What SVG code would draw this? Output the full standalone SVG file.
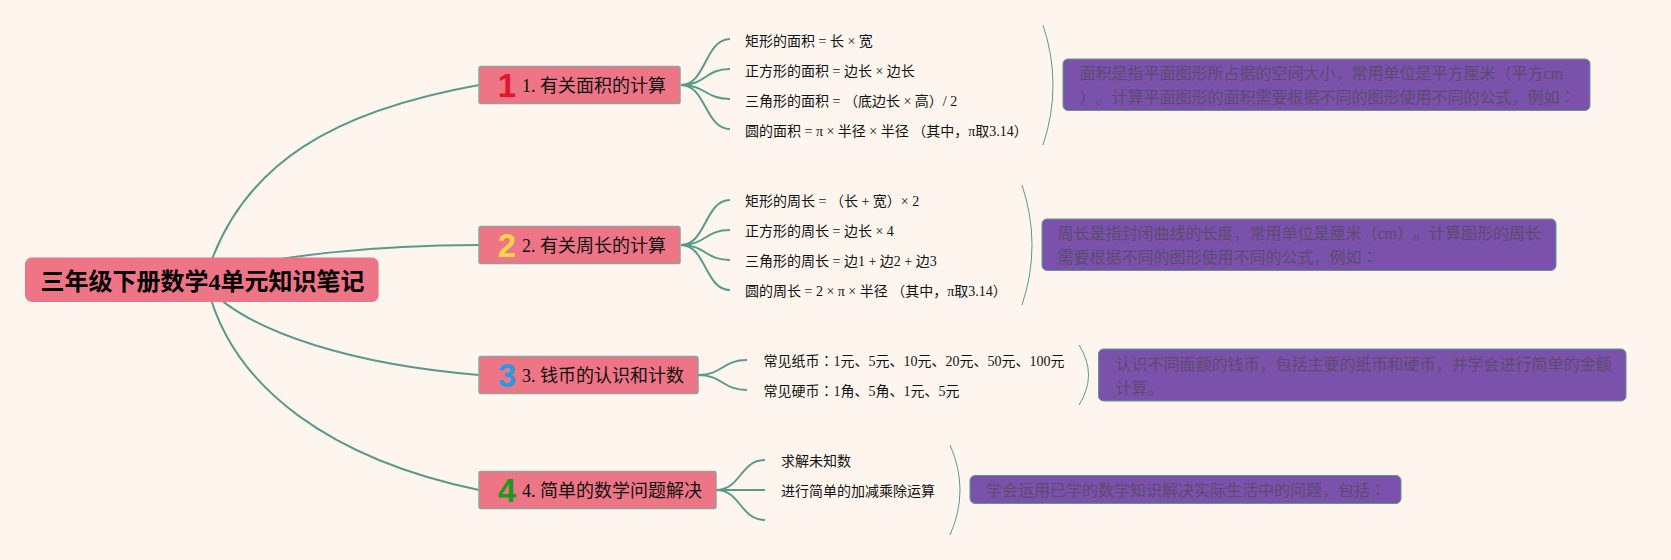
<svg xmlns="http://www.w3.org/2000/svg" width="1671" height="560" viewBox="0 0 1671 560">
<style>
text{font-family:"Liberation Serif","Noto Sans CJK SC",serif;text-spacing-trim:space-all}
.c{font-family:"Noto Sans CJK TC",sans-serif}
.root{fill:#ee7586}
.rt{font-size:24px;font-weight:700;fill:#000;text-anchor:middle}
.topic{fill:#ee7586;stroke:#98a09a;stroke-width:1.5}
.tt{font-size:18px;fill:#111}
.leaf{font-size:14px;fill:#111}
.note{fill:#7b52ab;stroke:#5b9a8b;stroke-width:1}
.nt{font-size:16px;fill:#5c4a70}
.icon{font-family:"Liberation Sans","DejaVu Sans",sans-serif;font-size:33px;font-weight:700;text-anchor:middle}
.main{fill:none;stroke:#5b9a8b;stroke-width:2}
.sub{fill:none;stroke:#5b9a8b;stroke-width:2}
.brace{fill:none;stroke:#5b9a8b;stroke-width:1}
</style>
<rect width="1671" height="560" fill="#fff5ef"/>
<g id="connectors">
<path class="main" d="M205 280C240 160 340 110 479 85"/>
<path class="main" d="M205 276C270 255 380 245 479 245"/>
<path class="main" d="M205 285C250 335 360 365 479 375"/>
<path class="main" d="M207 285C232 390 335 460 479 490"/>
<path class="sub" d="M681 85C706 85 705 39 730 39"/>
<path class="sub" d="M681 85C706 85 705 69 730 69"/>
<path class="sub" d="M681 85C706 85 705 99 730 99"/>
<path class="sub" d="M681 85C706 85 705 129 730 129"/>
<path class="sub" d="M681 245C706 245 705 200 730 200"/>
<path class="sub" d="M681 245C706 245 705 230 730 230"/>
<path class="sub" d="M681 245C706 245 705 260 730 260"/>
<path class="sub" d="M681 245C706 245 705 290 730 290"/>
<path class="sub" d="M698 375C723 375 722 360 747 360"/>
<path class="sub" d="M698 375C723 375 722 390 747 390"/>
<path class="sub" d="M716 490C741 490 740 460 765 460"/>
<path class="sub" d="M716 490H765"/>
<path class="sub" d="M716 490C741 490 740 520 765 520"/>
<path class="brace" d="M1043 25Q1063 85 1043 145"/>
<path class="brace" d="M1022 185Q1042 245 1022 305"/>
<path class="brace" d="M1079 345Q1098 375 1079 405"/>
<path class="brace" d="M950 445Q970 490 950 535"/>
</g>
<g id="root"><rect class="root" x="25" y="257.5" width="353.6" height="44.5" rx="7"/><text class="rt" x="202.5" y="290">三年级下册数学4单元知识笔记</text></g>
<g id="topic1"><rect class="topic" x="479" y="66.5" width="201" height="37" rx="2"/><text class="icon" x="507" y="96.5" fill="#e0162b">1</text><text class="tt" x="522" y="92">1. 有关面积的计算</text></g>
<g id="topic2"><rect class="topic" x="479" y="226.5" width="201" height="37" rx="2"/><text class="icon" x="507" y="256.5" fill="#f7d64a">2</text><text class="tt" x="522" y="252">2. 有关周长的计算</text></g>
<g id="topic3"><rect class="topic" x="479" y="356.5" width="219" height="37" rx="2"/><text class="icon" x="507" y="386.5" fill="#2a9ae0">3</text><text class="tt" x="522" y="382">3. 钱币的认识和计数</text></g>
<g id="topic4"><rect class="topic" x="479" y="471.5" width="237" height="37" rx="2"/><text class="icon" x="507" y="501.5" fill="#1d9a1d">4</text><text class="tt" x="522" y="497">4. 简单的数学问题解决</text></g>
<g id="leaf1-1"><text class="leaf" x="745" y="46">矩形的面积 = 长 × 宽</text></g>
<g id="leaf1-2"><text class="leaf" x="745" y="76">正方形的面积 = 边长 × 边长</text></g>
<g id="leaf1-3"><text class="leaf" x="745" y="106">三角形的面积 = （底边长 × 高）/ 2</text></g>
<g id="leaf1-4"><text class="leaf" x="745" y="136">圆的面积 = π × 半径 × 半径 （其中，π取3.14）</text></g>
<g id="leaf2-1"><text class="leaf" x="745" y="206">矩形的周长 = （长 + 宽）× 2</text></g>
<g id="leaf2-2"><text class="leaf" x="745" y="236">正方形的周长 = 边长 × 4</text></g>
<g id="leaf2-3"><text class="leaf" x="745" y="266">三角形的周长 = 边1 + 边2 + 边3</text></g>
<g id="leaf2-4"><text class="leaf" x="745" y="296">圆的周长 = 2 × π × 半径 （其中，π取3.14）</text></g>
<g id="leaf3-1"><text class="leaf" x="763.5" y="366">常见纸币<tspan class="c">：</tspan>1元、5元、10元、20元、50元、100元</text></g>
<g id="leaf3-2"><text class="leaf" x="763.5" y="396">常见硬币<tspan class="c">：</tspan>1角、5角、1元、5元</text></g>
<g id="leaf4-1"><text class="leaf" x="781" y="466">求解未知数</text></g>
<g id="leaf4-2"><text class="leaf" x="781" y="496">进行简单的加减乘除运算</text></g>
<g id="note1"><rect class="note" x="1063" y="59" width="527" height="51.5" rx="5"/><text class="nt" x="1079.5" y="79">面积是指平面图形所占据的空间大小，常用单位是平方厘米（平方cm</text><text class="nt" x="1079.5" y="103">）。计算平面图形的面积需要根据不同的图形使用不同的公式，例如<tspan class="c">：</tspan></text></g>
<g id="note2"><rect class="note" x="1042" y="219" width="514" height="51.5" rx="5"/><text class="nt" x="1057.5" y="239">周长是指封闭曲线的长度，常用单位是厘米（cm）。计算图形的周长</text><text class="nt" x="1057.5" y="263">需要根据不同的图形使用不同的公式，例如<tspan class="c">：</tspan></text></g>
<g id="note3"><rect class="note" x="1098.5" y="349" width="527.5" height="52" rx="5"/><text class="nt" x="1115.5" y="370">认识不同面额的钱币，包括主要的纸币和硬币，并学会进行简单的金额</text><text class="nt" x="1115.5" y="394">计算。</text></g>
<g id="note4"><rect class="note" x="970" y="475.5" width="431" height="28" rx="5"/><text class="nt" x="986" y="496">学会运用已学的数学知识解决实际生活中的问题，包括<tspan class="c">：</tspan></text></g>
</svg>
